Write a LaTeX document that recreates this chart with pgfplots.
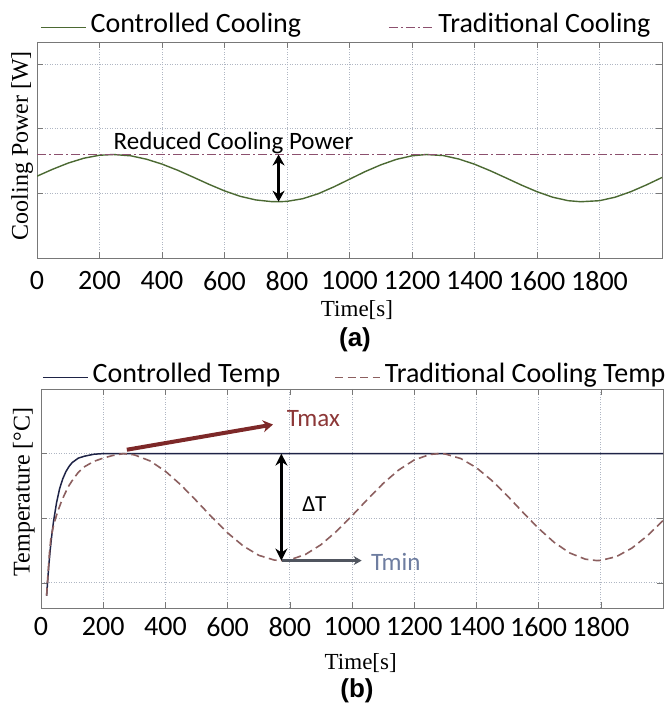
\documentclass[border=0pt]{standalone}
\usepackage{fontspec}
\setmainfont{Carlito}
\newfontfamily\tnr{Liberation Serif}
\newfontfamily\arl{Liberation Sans}
\usepackage{pgfplots}
\pgfplotsset{compat=1.18}
\usetikzlibrary{arrows.meta}

\definecolor{ccgreen}{RGB}{75,105,50}
\definecolor{tcpurple}{RGB}{140,80,110}
\definecolor{ctnavy}{RGB}{30,35,70}
\definecolor{tctbrown}{RGB}{140,95,95}
\definecolor{gridc}{RGB}{175,182,195}
\definecolor{boxc}{RGB}{120,120,120}
\definecolor{tmaxred}{RGB}{125,40,40}
\definecolor{tmaxtext}{RGB}{140,55,55}
\definecolor{tmingray}{RGB}{80,85,95}
\definecolor{tmintext}{RGB}{110,125,160}

\pgfplotsset{
  panel/.style={
    scale only axis, xmin=0, xmax=2000,
    xtick={0,200,...,1800},
    yticklabels={},
    grid=major,
    major grid style={dash pattern=on 1pt off 1.5pt, line width=0.7pt, color=gridc},
    axis line style={draw=boxc, line width=0.8pt},
    tick style={draw=boxc, line width=0.6pt},
    major tick length=6pt,
    tick align=inside,
    /pgf/number format/assume math mode=true,
    /pgf/number format/1000 sep={},
    xticklabel style={font=\fontsize{28}{30}\selectfont, inner sep=0pt, anchor=north},
    xlabel style={font=\tnr\fontsize{23}{25}\selectfont, inner sep=0pt, anchor=base},
    ylabel style={font=\tnr\fontsize{24}{26}\selectfont, inner sep=0pt, anchor=south},
    legend style={draw=none, fill=none, inner sep=0pt, anchor=south west,
      legend columns=2, font=\fontsize{28}{30}\selectfont,
      nodes={inner sep=0pt, text height=1.04em, text depth=0pt},
      /tikz/every odd column/.append style={column sep=4pt}},
    legend image code/.code={\draw[##1] (0pt,0pt) -- (45pt,0pt);},
  }
}

\begin{document}
\begin{tikzpicture}
\useasboundingbox (0,0) rectangle (666pt,707pt);

% panel (a): cooling power
\begin{axis}[panel, at={(37pt,449pt)}, anchor=south west,
  width=625pt, height=216pt, ymin=0, ymax=3.34, ytick={0,1,2,3},
  xticklabel style={yshift=-13pt},
  xlabel={Time[s]}, xlabel style={at={(axis description cs:0.512,0)}, yshift=-59pt},
  ylabel={Cooling Power [W]}, ylabel style={at={(axis description cs:-0.006,0.52)}},
  legend style={at={(axis description cs:0,1)}, xshift=3pt, yshift=9pt,
    /tikz/every even column/.append style={column sep=87pt}}]
\addplot[ccgreen, line width=1.4pt] coordinates {
 (0,1.265) (50,1.372) (100,1.468) (150,1.543) (200,1.589) (245,1.600)
 (300,1.580) (350,1.528) (400,1.452) (450,1.357) (500,1.250) (550,1.140)
 (600,1.038) (650,0.954) (700,0.898) (750,0.872) (775,0.870) (800,0.876)
 (850,0.916) (900,0.994) (950,1.100) (1000,1.218) (1050,1.336) (1100,1.440)
 (1150,1.525) (1200,1.580) (1245,1.600) (1300,1.584) (1350,1.530) (1400,1.450)
 (1450,1.350) (1500,1.240) (1550,1.128) (1600,1.025) (1650,0.940) (1700,0.886)
 (1740,0.870) (1800,0.886) (1850,0.940) (1900,1.025) (1950,1.130) (2000,1.245)};
\addlegendentry{Controlled Cooling}
\addplot[tcpurple, line width=1.2pt, dash pattern=on 9pt off 3pt on 2pt off 3pt] coordinates {
 (0,1.60) (2000,1.60)};
\addlegendentry{Traditional Cooling}
\draw[{Stealth[length=11pt,width=12pt]}-{Stealth[length=11pt,width=12pt]}, line width=3.5pt]
  (axis cs:773,1.60) -- (axis cs:773,0.87);
\node[anchor=base, inner sep=0pt, font=\fontsize{25}{27}\selectfont] at (axis cs:629,1.685) {Reduced Cooling Power};
\end{axis}

% panel (b): temperature
\begin{axis}[panel, at={(41pt,99pt)}, anchor=south west,
  width=622pt, height=219pt, ymin=0.61, ymax=4.0, ytick={1,2,3},
  xticklabel style={yshift=-9pt},
  xlabel={Time[s]}, xlabel style={at={(axis description cs:0.514,0)}, yshift=-61pt},
  ylabel={Temperature [°C]}, ylabel style={at={(axis description cs:-0.0096,0.53)}},
  legend style={at={(axis description cs:0,1)}, xshift=1pt, yshift=6pt,
    /tikz/every even column/.append style={column sep=54pt}}]
\addplot[ctnavy, line width=1.5pt] coordinates {
 (18,0.80) (25,1.26) (30,1.53) (35,1.75) (40,1.94) (50,2.24) (60,2.46)
 (70,2.61) (80,2.72) (90,2.80) (100,2.86) (120,2.93) (140,2.96) (170,2.99)
 (200,3.0) (2000,3.0)};
\addlegendentry{Controlled Temp}
\addplot[tctbrown, line width=1.6pt, dash pattern=on 8pt off 4.5pt] coordinates {
 (18,0.80) (22,1.10) (27,1.45) (32,1.70) (40,1.88) (47,2.00) (55,2.12)
 (65,2.25) (75,2.36) (88,2.49) (100,2.58) (120,2.71) (141,2.80) (170,2.88)
 (200,2.93) (230,2.97) (265,3.0) (300,2.981) (350,2.888) (400,2.727)
 (450,2.514) (500,2.268) (550,2.013) (600,1.773) (650,1.571) (700,1.426)
 (750,1.352) (772,1.344) (800,1.356) (850,1.438) (900,1.589) (950,1.796)
 (1000,2.038) (1050,2.293) (1100,2.537) (1150,2.746) (1200,2.901) (1250,2.986)
 (1280,3.0) (1300,2.994) (1350,2.923) (1400,2.782) (1450,2.582) (1500,2.344)
 (1550,2.089) (1600,1.842) (1650,1.626) (1700,1.462) (1750,1.366) (1787,1.344)
 (1800,1.347) (1850,1.405) (1900,1.537) (1950,1.729) (2000,1.963)};
\addlegendentry{Traditional Cooling Temp}
\draw[tmaxred, line width=4pt, -{Stealth[length=10pt,width=12pt]}]
  (axis cs:276,3.06) -- (axis cs:746,3.45);
\node[text=tmaxtext, font=\fontsize{25}{27}\selectfont] at (axis cs:876,3.54) {Tmax};
\draw[{Stealth[length=12pt,width=12pt]}-{Stealth[length=12pt,width=12pt]}, line width=3.5pt]
  (axis cs:773,3.0) -- (axis cs:773,1.344);
\node[font=\fontsize{23}{25}\selectfont] at (axis cs:879,2.217) {ΔT};
\draw[tmingray, line width=2.5pt, -{Stealth[length=8pt,width=9pt]}]
  (axis cs:775,1.344) -- (axis cs:1031,1.344);
\node[text=tmintext, font=\fontsize{25}{27}\selectfont] at (axis cs:1141,1.326) {Tmin};
\end{axis}

\node[anchor=base, inner sep=0pt, font=\arl\bfseries\fontsize{26}{28}\selectfont] at (355pt,360pt) {(a)};
\node[anchor=base, inner sep=0pt, font=\arl\bfseries\fontsize{26}{28}\selectfont] at (357pt,9.5pt) {(b)};
\end{tikzpicture}
\end{document}
